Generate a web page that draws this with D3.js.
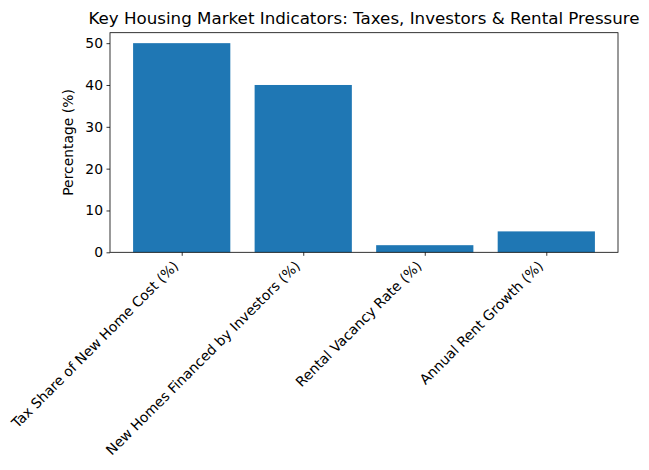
<!DOCTYPE html>
<html><head><meta charset="utf-8">
<script src="https://cdn.jsdelivr.net/npm/d3@7"></script>
<style>body{margin:0;background:#fff}svg{display:block;font-family:"DejaVu Sans",sans-serif}</style>
</head><body><div id="chart"></div>
<script>
const categories = ["Tax Share of New Home Cost (%)", "New Homes Financed by Investors (%)", "Rental Vacancy Rate (%)", "Annual Rent Growth (%)"];
const values = [50, 40, 1.7, 5];
const yTicks = [0, 10, 20, 30, 40, 50];
const title = "Key Housing Market Indicators: Taxes, Investors & Rental Pressure";
const yLabel = "Percentage (%)";

const W = 649, H = 470;
const L = 110, R = 618, T = 32.7, B = 252.3;
const svg = d3.select("#chart").append("svg").attr("width", W).attr("height", H);

const x = d3.scaleLinear().domain([-0.59, categories.length - 1 + 0.59]).range([L, R]);
const y = d3.scaleLinear().domain([0, 52.5]).range([B, T]);

svg.append("g").selectAll("rect").data(values).join("rect")
  .attr("x", (d, i) => x(i - 0.4)).attr("width", (d, i) => x(i + 0.4) - x(i - 0.4))
  .attr("y", d => y(d)).attr("height", d => y(0) - y(d)).attr("fill", "#1f77b4");

const fs = 13.9;
const yAxis = svg.append("g").attr("transform", `translate(${L},0)`)
  .call(d3.axisLeft(y).tickValues(yTicks).tickSize(3.5).tickPadding(3.5).tickFormat(d3.format("d")));
yAxis.select(".domain").remove();
yAxis.selectAll("text").attr("font-size", fs).attr("fill", "#000").attr("font-family", "DejaVu Sans");
yAxis.selectAll("line").attr("stroke", "#000").attr("stroke-width", 0.8);

const xAxis = svg.append("g").attr("transform", `translate(0,${B})`)
  .call(d3.axisBottom(x).tickValues(d3.range(categories.length)).tickSize(3.5).tickFormat(""));
xAxis.select(".domain").remove();
xAxis.selectAll("line").attr("stroke", "#000").attr("stroke-width", 0.8);

const s2 = Math.SQRT2;
const asc = 10.6, desc = 3.2;
svg.append("g").selectAll("text").data(categories).join("text")
  .attr("transform", (d, i) => `translate(${x(i) - desc / s2},${B + 7 + asc / s2}) rotate(-45)`)
  .attr("text-anchor", "end").attr("font-size", fs).attr("fill", "#000").text(d => d);

svg.append("rect").attr("x", L).attr("y", T).attr("width", R - L).attr("height", B - T)
  .attr("fill", "none").attr("stroke", "#000").attr("stroke-width", 0.8);

svg.append("text").attr("x", (L + R) / 2).attr("y", 24).attr("text-anchor", "middle")
  .attr("font-size", 16.7).attr("fill", "#000").text(title);

svg.append("text").attr("transform", `translate(73,${(T + B) / 2}) rotate(-90)`)
  .attr("text-anchor", "middle").attr("font-size", fs).attr("fill", "#000").text(yLabel);
</script></body></html>
